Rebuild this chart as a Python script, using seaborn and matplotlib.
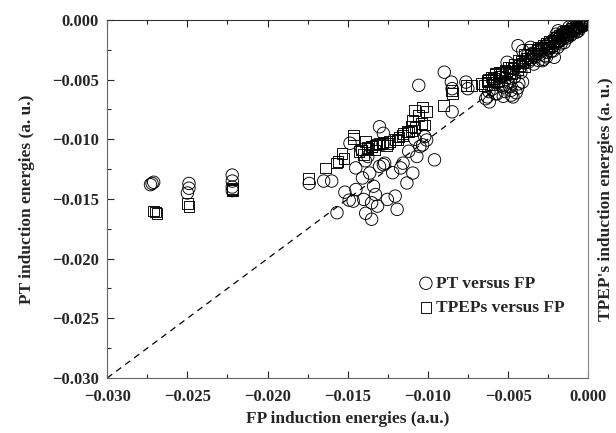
import numpy as np
import matplotlib
matplotlib.use("Agg")
import matplotlib.pyplot as plt
import seaborn as sns

# PT versus FP (circles)
pt_x = [-0.0273, -0.0272, -0.0271, -0.0250, -0.0249, -0.0249, -0.0222, -0.0222, -0.0222, -0.0222,
        -0.0174, -0.0165, -0.0160,
        -0.01567, -0.01518, -0.01491, -0.01466, -0.01449, -0.01408, -0.01400, -0.01388, -0.01363,
        -0.01351, -0.01351, -0.01339, -0.01327, -0.01314, -0.01302, -0.01278, -0.01270, -0.01253,
        -0.01204, -0.01192, -0.01155, -0.01131, -0.01094, -0.01069, -0.01050, -0.01020, -0.00959,
        -0.01302, -0.01278, -0.01033, -0.01008, -0.01412, -0.01486, -0.01375,
        -0.00898, -0.01057, -0.00854, -0.00849, -0.00849, -0.00763, -0.00751, -0.00617, -0.00629,
        -0.00580, -0.00531, -0.00482, -0.00470, -0.00433, -0.00506, -0.00438, -0.00409, -0.00360,
        -0.00286, -0.00212, -0.00188,
        -0.0060, -0.0057, -0.0054, -0.0052, -0.0050, -0.0048, -0.0046, -0.0044, -0.0042, -0.0041,
        -0.0055, -0.0062, -0.0058, -0.0053, -0.0049, -0.0045, -0.0064, -0.0051,
        -0.0040, -0.0038, -0.0036, -0.0035, -0.0033, -0.0032, -0.0030, -0.0029, -0.0028, -0.0027,
        -0.0026, -0.0025, -0.0024, -0.0023, -0.0022, -0.0021, -0.0020, -0.0019, -0.0018, -0.0017,
        -0.0016, -0.0015, -0.0014, -0.0013, -0.0012, -0.0011, -0.0010, -0.0009, -0.0008, -0.0007,
        -0.0006, -0.0005, -0.0004, -0.0003, -0.0002, -0.0001, -0.00005, -0.0001, -0.0003, -0.0006,
        -0.0009, -0.0013, -0.0017, -0.0022, -0.0026, -0.0020, -0.0016, -0.0012,
        -0.0039, -0.0037, -0.0034, -0.0031, -0.0029, -0.0027, -0.0025, -0.0023, -0.0021, -0.0019,
        -0.0017, -0.0015, -0.0013, -0.0011, -0.0009, -0.0007, -0.0005, -0.0003, -0.0034, -0.0030,
        -0.0026, -0.0022, -0.0018, -0.0014, -0.0010, -0.0006, -0.0002,
        -0.0122, -0.0117, -0.0112, -0.0139, -0.0145, -0.0128, -0.0108]
pt_y = [-0.0138, -0.0137, -0.0136, -0.0145, -0.0141, -0.0137, -0.0130, -0.0135, -0.0140, -0.0143,
        -0.0137, -0.0135, -0.0135,
        -0.01615, -0.01443, -0.01510, -0.01518, -0.01421, -0.01324, -0.01504, -0.01620, -0.01283,
        -0.01670, -0.01532, -0.01393, -0.01463, -0.01560, -0.01227, -0.01213, -0.01200, -0.01504,
        -0.01476, -0.01587, -0.01200, -0.01366, -0.01283, -0.01144, -0.01061, -0.00978, -0.01172,
        -0.00895, -0.00950, -0.01047, -0.01006, -0.01089, -0.01033, -0.01144,
        -0.00438, -0.00548, -0.00521, -0.00576, -0.00770, -0.00521, -0.00576, -0.00687, -0.00645,
        -0.00618, -0.00562, -0.00590, -0.00645, -0.00535, -0.00355, -0.00216, -0.00258, -0.00230,
        -0.00341, -0.00313, -0.00091,
        -0.0058, -0.0062, -0.0055, -0.0060, -0.0052, -0.0063, -0.0048, -0.0057, -0.0044, -0.0052,
        -0.0048, -0.0060, -0.0051, -0.0064, -0.0056, -0.0061, -0.0066, -0.0045,
        -0.0036, -0.0030, -0.0033, -0.0028, -0.0031, -0.0026, -0.0029, -0.0024, -0.0033, -0.0022,
        -0.0027, -0.0020, -0.0024, -0.0018, -0.0022, -0.0016, -0.0020, -0.0014, -0.0018, -0.0013,
        -0.0016, -0.0011, -0.0014, -0.0010, -0.0012, -0.0008, -0.0010, -0.0007, -0.0008, -0.0005,
        -0.0006, -0.0004, -0.0004, -0.0002, -0.0002, -0.0001, 0.0000, -0.0003, -0.0005, -0.0009,
        -0.0011, -0.0015, -0.0020, -0.0026, -0.0031, -0.0012, -0.0010, -0.0006,
        -0.0033, -0.0035, -0.0030, -0.0034, -0.0025, -0.0030, -0.0022, -0.0026, -0.0019, -0.0023,
        -0.0016, -0.0019, -0.0012, -0.0013, -0.0009, -0.0010, -0.0006, -0.0004, -0.0037, -0.0027,
        -0.0024, -0.0019, -0.0015, -0.0011, -0.0006, -0.0003, -0.0004,
        -0.0128, -0.0124, -0.0110, -0.0118, -0.0124, -0.0104, -0.0100]

# TPEPs versus FP (squares)
tp_x = [-0.0271, -0.0270, -0.0269, -0.0250, -0.0249, -0.0222, -0.0222, -0.0222,
        -0.01743, -0.01638, -0.01572, -0.0156, -0.01535, -0.01523, -0.01466, -0.01466, -0.01412,
        -0.01388, -0.01375, -0.01351, -0.01327, -0.01302, -0.01253, -0.01192, -0.01155, -0.01131,
        -0.01106, -0.01094, -0.01082, -0.01057, -0.01033, -0.01008, -0.01020, -0.00903, -0.00854,
        -0.00849, -0.00763, -0.00727, -0.00666, -0.00629, -0.00604, -0.00580, -0.00555, -0.00519,
        -0.00482, -0.00433, -0.00396, -0.00360, -0.00311,
        -0.0065, -0.0062, -0.0060, -0.0058, -0.0056, -0.0054, -0.0052, -0.0050, -0.0048, -0.0046,
        -0.0044, -0.0042, -0.0040, -0.0038, -0.0036,
        -0.0034, -0.0032, -0.0030, -0.0028, -0.0026, -0.0024, -0.0022, -0.0020, -0.0018, -0.0016,
        -0.0014, -0.0012, -0.0010, -0.0008, -0.0006, -0.0004, -0.0002, -0.0001, -0.0025, -0.0019,
        -0.0013, -0.0007,
        -0.0143, -0.0138, -0.0135, -0.0132, -0.0128, -0.0124, -0.0120, -0.0116, -0.0112, -0.0108,
        -0.0104, -0.0140, -0.0133, -0.0126, -0.0118, -0.0110,
        -0.0063, -0.0059, -0.0055, -0.0051, -0.0047, -0.0043, -0.0057, -0.0049, -0.0041]
tp_y = [-0.0160, -0.0161, -0.0162, -0.0154, -0.0156, -0.0141, -0.0142, -0.0143,
        -0.01330, -0.01241, -0.01199, -0.01186, -0.01116, -0.01158, -0.00964, -0.00992, -0.01089,
        -0.01019, -0.01075, -0.01061, -0.01047, -0.01033, -0.01033, -0.01006, -0.00950, -0.00936,
        -0.00895, -0.00839, -0.00756, -0.00798, -0.00729, -0.00770, -0.00881, -0.00715, -0.00590,
        -0.00618, -0.00548, -0.00548, -0.00535, -0.00507, -0.00479, -0.00452, -0.00438, -0.00424,
        -0.00396, -0.00341, -0.00285, -0.00244, -0.00230,
        -0.0055, -0.0050, -0.0054, -0.0046, -0.0051, -0.0044, -0.0048, -0.0040, -0.0045, -0.0037,
        -0.0042, -0.0035, -0.0039, -0.0032, -0.0030,
        -0.0028, -0.0025, -0.0024, -0.0021, -0.0020, -0.0018, -0.0017, -0.0015, -0.0013, -0.0012,
        -0.0010, -0.0009, -0.0007, -0.0006, -0.0004, -0.0003, -0.0001, 0.0000, -0.0023, -0.0017,
        -0.0012, -0.0007,
        -0.0110, -0.0107, -0.0106, -0.0104, -0.0103, -0.0102, -0.0100, -0.0097, -0.0094, -0.0090,
        -0.0087, -0.0113, -0.0109, -0.0105, -0.0098, -0.0093,
        -0.0052, -0.0049, -0.0047, -0.0043, -0.0041, -0.0038, -0.0052, -0.0044, -0.0036]

ticks = [-0.030, -0.025, -0.020, -0.015, -0.010, -0.005, 0.000]
tick_labels = ["\u22120.030", "\u22120.025", "\u22120.020", "\u22120.015", "\u22120.010", "\u22120.005", "0.000"]

sns.set_style("ticks")
plt.rcParams['font.family'] = ['Liberation Serif', 'DejaVu Serif']
plt.rcParams['font.weight'] = 'bold'

fig = plt.figure(figsize=(6.16, 4.33), dpi=100)
ax = fig.add_axes([0.174, 0.127, 0.781, 0.827])

ax.plot([-0.030, 0.0], [-0.030, 0.0], color='black', lw=0.9, ls=(0, (5, 4)))

sns.scatterplot(x=pt_x, y=pt_y, marker='o', s=80, color='black', facecolor='none',
                edgecolor='black', linewidth=0.65, label='PT versus FP', ax=ax)
sns.scatterplot(x=tp_x, y=tp_y, marker='s', s=60, color='black', facecolor='none',
                edgecolor='black', linewidth=0.65, label='TPEPs versus FP', ax=ax)

ax.set_xlim(-0.030, 0.0)
ax.set_ylim(-0.030, 0.0)
ax.set_xticks(ticks)
ax.set_xticklabels(tick_labels)
ax.set_yticks(ticks)
ax.set_yticklabels(tick_labels)
ax.set_xticks(np.arange(-0.0275, 0, 0.005), minor=True)
ax.set_yticks(np.arange(-0.0275, 0, 0.005), minor=True)
ax.tick_params(which='both', direction='in', top=True, right=True, labelsize=12)
ax.tick_params(axis='x', which='major', pad=8)
ax.tick_params(axis='y', which='major', pad=6)
ax.tick_params(which='major', length=5, width=0.8)
ax.tick_params(which='minor', length=3, width=0.8)
for lab in ax.get_xticklabels() + ax.get_yticklabels():
    lab.set_fontweight('bold')

for side in ['left', 'bottom']:
    ax.spines[side].set_color('#666666')
ax.spines['top'].set_color('#333333')
ax.spines['right'].set_color('#888888')
ax.spines['right'].set_linestyle((0, (1, 1)))

ax.set_xlabel('FP induction energies (a.u.)', fontsize=12.5, fontweight='bold', labelpad=4)
ax.set_ylabel('PT induction energies (a. u.)', fontsize=12.5, fontweight='bold', labelpad=12)

ax2 = ax.twinx()
ax2.set_ylim(-0.030, 0.0)
ax2.set_yticks([])
for s in ax2.spines.values():
    s.set_visible(False)
ax2.set_ylabel("TPEP's induction energies (a. u.)", fontsize=12.5, fontweight='bold', labelpad=7)

leg = ax.legend(loc='upper left', bbox_to_anchor=(0.63, 0.31), frameon=False,
                prop={'family': 'Liberation Serif', 'weight': 'bold', 'size': 12.5},
                handlelength=0.8, handletextpad=0.2, borderpad=0, labelspacing=0.45)

fig.savefig('out.png', dpi=100)
